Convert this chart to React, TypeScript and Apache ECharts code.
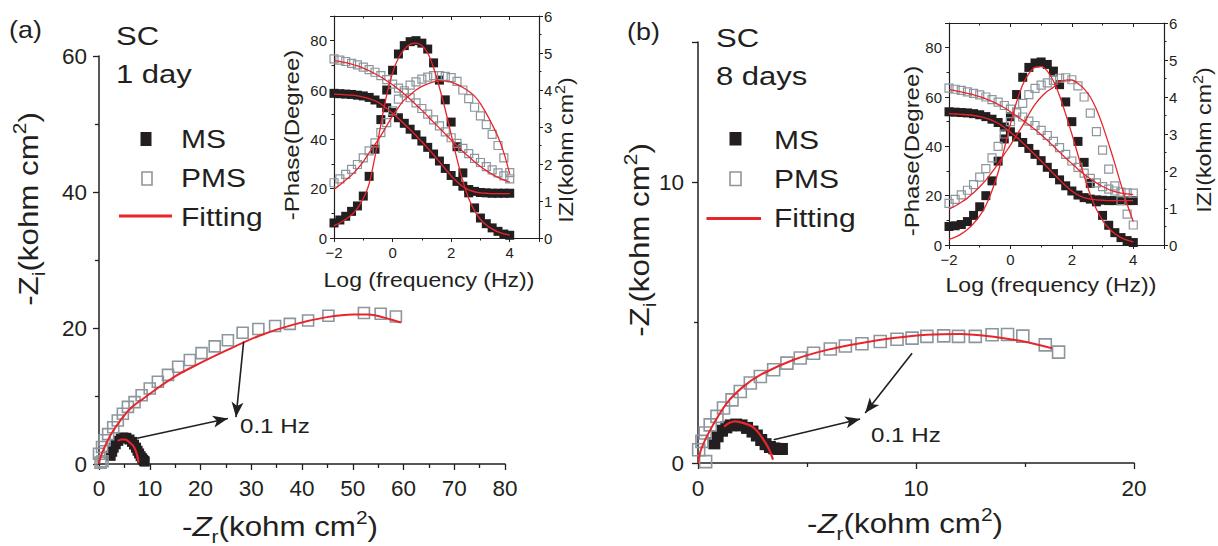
import React, { useEffect, useRef } from 'react';
import * as echarts from 'echarts';

const FONT = "'Liberation Sans', Arial, Helvetica, sans-serif";
const INK = '#231f20';
const RED = '#e8252b';
const GRAY = '#8c969d';

// ---- Bode insets: log frequency (Hz) ----
const logF = [-2, -1.8, -1.6, -1.4, -1.2, -1, -0.8, -0.6, -0.4, -0.2, 0, 0.2, 0.4, 0.6, 0.8, 1, 1.2, 1.4, 1.6, 1.8, 2, 2.2, 2.4, 2.6, 2.8, 3, 3.2, 3.4, 3.6, 3.8, 4];

// (a) 1 day
const aMsPhase = [6.1, 7.3, 8.8, 10.8, 13, 17, 25, 36, 48, 60, 68, 74.6, 78, 79.6, 80, 79, 76.6, 71, 64, 56, 47, 37, 26.4, 18.3, 12.2, 8.1, 5.8, 4.1, 2.7, 1.6, 1.1];
const aMsPhaseFit = [5, 6.2, 7.6, 9.4, 12, 16, 22, 33, 46, 58, 67, 73, 76.5, 78.5, 79, 78, 75, 69, 61, 52, 42, 32, 23, 16, 11, 7.5, 5.3, 3.7, 2.5, 1.7, 1.2];
const aMsZ = [3.91, 3.9, 3.89, 3.88, 3.86, 3.84, 3.8, 3.73, 3.64, 3.52, 3.39, 3.25, 3.1, 2.94, 2.79, 2.62, 2.45, 2.27, 2.08, 1.88, 1.69, 1.53, 1.4, 1.31, 1.26, 1.23, 1.22, 1.21, 1.21, 1.21, 1.21];
const aMsZFit = [3.89, 3.88, 3.87, 3.86, 3.84, 3.81, 3.77, 3.71, 3.62, 3.5, 3.37, 3.23, 3.08, 2.93, 2.77, 2.6, 2.43, 2.25, 2.06, 1.87, 1.68, 1.52, 1.39, 1.3, 1.25, 1.22, 1.21, 1.2, 1.2, 1.2, 1.2];
const aPmsPhase = [22.4, 24, 25.8, 27.8, 29.8, 32.5, 35.3, 38.6, 42.7, 46.8, 51.5, 56.3, 59.7, 62, 63.3, 64.4, 65.2, 65.8, 65.8, 65.5, 65, 63.5, 60, 56.5, 53, 49.5, 46, 42, 37.5, 32.5, 26.5];
const aPmsPhaseFit = [19.7, 21.5, 23.5, 25.5, 28, 31, 34.5, 38, 41.5, 45.5, 49.5, 53, 56, 58, 60, 61.5, 62.5, 63.3, 63.7, 63.6, 63.2, 62.3, 61, 59.5, 57.5, 54.5, 50.5, 46, 41, 34.5, 26];
const aPmsZ = [4.84, 4.81, 4.77, 4.72, 4.68, 4.62, 4.55, 4.48, 4.39, 4.28, 4.16, 4.05, 3.92, 3.79, 3.65, 3.5, 3.35, 3.19, 3.03, 2.87, 2.71, 2.56, 2.42, 2.28, 2.15, 2.04, 1.93, 1.84, 1.76, 1.68, 1.6];
const aPmsZFit = [4.8, 4.77, 4.74, 4.7, 4.65, 4.59, 4.52, 4.44, 4.35, 4.25, 4.14, 4.02, 3.89, 3.75, 3.6, 3.45, 3.29, 3.13, 2.97, 2.81, 2.65, 2.49, 2.34, 2.2, 2.06, 1.93, 1.82, 1.72, 1.64, 1.57, 1.51];

// (b) 8 days
const bMsPhase = [7.5, 7.8, 8.3, 9.5, 12, 15.5, 20, 26, 34, 43, 52, 61, 68, 72, 73.8, 74.2, 73.2, 70.5, 65, 58, 50, 42, 33.5, 25, 17.5, 12, 8, 5, 3, 1.8, 1];
const bMsPhaseFit = [2.3, 3.2, 4.5, 6.3, 8.7, 11.8, 16, 22, 29.5, 39, 49, 58, 65, 69.5, 72, 72.3, 70.5, 66.5, 60.5, 53, 45, 36.5, 28, 20.5, 14.5, 10, 6.8, 4.6, 3, 2, 1.3];
const bMsZ = [3.6, 3.59, 3.58, 3.57, 3.55, 3.52, 3.47, 3.4, 3.31, 3.19, 3.06, 2.92, 2.77, 2.61, 2.45, 2.28, 2.1, 1.93, 1.76, 1.6, 1.46, 1.35, 1.28, 1.24, 1.22, 1.21, 1.2, 1.2, 1.2, 1.2, 1.2];
const bMsZFit = [3.55, 3.54, 3.53, 3.52, 3.5, 3.47, 3.43, 3.37, 3.29, 3.18, 3.05, 2.91, 2.76, 2.6, 2.44, 2.27, 2.1, 1.93, 1.76, 1.6, 1.46, 1.35, 1.28, 1.24, 1.22, 1.21, 1.2, 1.2, 1.2, 1.2, 1.2];
const bPmsPhase = [16.9, 18.5, 20.3, 22.2, 24.5, 27.5, 31, 35.3, 40, 45, 50, 54, 57.4, 61, 63.5, 64.8, 65.7, 66.7, 67.6, 67.8, 67, 64.5, 60, 53.5, 46, 38.5, 30.8, 24, 18, 12.5, 8.1];
const bPmsPhaseFit = [14.5, 15.8, 17.3, 19, 21.2, 23.6, 26.3, 29.5, 33, 36.8, 40.5, 44.5, 48.5, 53, 57, 60, 62.3, 64, 66.3, 66.8, 66.9, 65.5, 63.3, 60, 55, 48.5, 41, 33, 24.5, 16.5, 9.5];
const bPmsZ = [4.24, 4.21, 4.18, 4.14, 4.1, 4.06, 4, 3.93, 3.86, 3.77, 3.67, 3.57, 3.46, 3.35, 3.23, 3.1, 2.96, 2.8, 2.63, 2.45, 2.27, 2.1, 1.94, 1.8, 1.68, 1.58, 1.51, 1.46, 1.43, 1.41, 1.4];
const bPmsZFit = [4.2, 4.17, 4.14, 4.1, 4.06, 4.01, 3.95, 3.88, 3.8, 3.71, 3.6, 3.49, 3.37, 3.25, 3.12, 2.98, 2.83, 2.67, 2.51, 2.35, 2.2, 2.05, 1.91, 1.79, 1.68, 1.58, 1.5, 1.44, 1.4, 1.38, 1.36];

// ---- Nyquist plots: [-Zr, -Zi] in kohm cm2 ----
const aMsNyq = [[2.3, 1.2], [2.6, 1.8], [2.9, 2.4], [3.3, 2.9], [3.8, 3.4], [4.3, 3.75], [4.8, 3.9], [5.4, 3.85], [6.0, 3.6], [6.5, 3.25], [6.9, 2.85], [7.3, 2.4], [7.6, 1.95], [7.9, 1.55], [8.2, 1.15], [8.5, 0.85], [8.7, 0.6], [8.9, 0.45], [9.0, 0.35]];
const aMsNyqFit = [[3.7, 3.4], [4.4, 3.6], [5.2, 3.6], [6.0, 3.2], [6.7, 2.7], [7.2, 2.0], [7.5, 1.3], [7.7, 0.7], [7.8, 0.2]];
const aPmsNyq = [[-0.2, 0.5], [0.3, 0.2], [0.7, 0.4], [0, 1.5], [0.6, 2.5], [1.1, 3.5], [1.8, 4.4], [2.8, 5.4], [3.7, 6.4], [4.7, 7.4], [5.7, 8.4], [7.0, 9.1], [8.4, 10.1], [10.0, 11.1], [11.6, 12.1], [13.6, 13.1], [15.6, 14.3], [17.9, 15.3], [20.2, 16.3], [22.8, 17.3], [25.4, 18.2], [28.3, 19.3], [31.4, 19.85], [34.7, 20.3], [37.6, 20.6], [41.2, 21.1], [45.2, 21.8], [52.2, 22.2], [55.5, 22.1], [58.5, 21.7]];
const aPmsNyqFit = [[0, 0], [0.3, 1.0], [1.1, 2.5], [2.4, 4.4], [4.4, 6.6], [6.4, 8.3], [8.7, 9.6], [12, 11.4], [15, 12.9], [18.5, 14.3], [25.1, 16.7], [31.7, 18.9], [38.3, 20.5], [44.9, 21.6], [50.1, 22.0], [53.1, 22.0], [57.3, 21.3], [59.5, 20.8]];
const aArrows = [[[28.5, 18.0], [27, 6.9]], [[7.5, 3.8], [25.4, 6.7]]];

const bMsNyq = [[0.75, 0.7], [0.9, 0.95], [1.1, 1.15], [1.3, 1.27], [1.5, 1.34], [1.75, 1.37], [2.0, 1.34], [2.25, 1.25], [2.5, 1.12], [2.7, 0.98], [2.9, 0.82], [3.1, 0.67], [3.3, 0.57], [3.5, 0.52], [3.7, 0.5], [3.85, 0.5]];
const bMsNyqFit = [[1.2, 1.3], [1.45, 1.43], [1.71, 1.48], [2.1, 1.42], [2.48, 1.3], [2.75, 1.1], [3.0, 0.83], [3.2, 0.58], [3.33, 0.36], [3.44, 0.12]];
const bPmsNyq = [[0.1, -0.1], [0.35, 0.05], [-0.05, 0.18], [0.03, 0.47], [0.18, 0.77], [0.33, 1.07], [0.56, 1.36], [0.87, 1.66], [1.17, 1.96], [1.56, 2.25], [1.94, 2.55], [2.4, 2.85], [2.86, 3.08], [3.47, 3.32], [4.08, 3.56], [4.69, 3.74], [5.3, 3.91], [6.07, 4.06], [6.76, 4.17], [7.52, 4.25], [8.36, 4.33], [9.13, 4.41], [9.82, 4.45], [10.5, 4.51], [11.27, 4.53], [11.95, 4.51], [12.72, 4.51], [13.49, 4.57], [14.2, 4.58], [14.9, 4.52], [15.93, 4.21], [16.54, 3.95]];
const bPmsNyqFit = [[0, 0], [0.15, 0.5], [0.56, 1.18], [1.33, 2.14], [2.09, 2.73], [2.86, 3.14], [4.39, 3.68], [5.92, 4.03], [7.44, 4.27], [8.97, 4.45], [10.5, 4.57], [12.03, 4.6], [13.56, 4.5], [15.0, 4.32], [16.24, 4.09]];
const bArrows = [[[9.82, 3.91], [7.67, 1.78]], [[3.47, 0.83], [7.44, 1.57]]];

const pairs = (ys: number[]) => logF.map((x, i) => [x, ys[i]]);

const lineStyle = { color: INK, width: 1.3 };
const hideAbove = (lim: number) => (v: number) => (v > lim + 1e-9 ? '' : v < 0 ? '\u2212' + -v : String(v));

function mainAxis(gridIndex: number, min: number, max: number, interval: number, pos: string, lim: number, margin = 13) {
  return {
    type: 'value', gridIndex, min, max, interval, position: pos,
    axisLine: { onZero: false, lineStyle: { color: INK, width: 1.5 } },
    axisTick: { length: 6, lineStyle },
    minorTick: { show: true, splitNumber: 2, length: 4, lineStyle },
    splitLine: { show: false }, minorSplitLine: { show: false },
    axisLabel: { fontSize: 22.5, color: INK, fontFamily: FONT, margin, formatter: hideAbove(lim) },
  };
}
function insetAxis(gridIndex: number, min: number, max: number, interval: number, pos: string, lim: number, showLabel = true, inside = false, margin = 6) {
  return {
    type: 'value', gridIndex, min, max, interval, position: pos,
    axisLine: { onZero: false, lineStyle: { color: INK, width: 1.2 } },
    axisTick: { length: 4, inside, lineStyle: { color: INK, width: 1 } },
    minorTick: { show: true, splitNumber: 2, length: 2.5, lineStyle: { color: INK, width: 1 } },
    splitLine: { show: false }, minorSplitLine: { show: false },
    axisLabel: { show: showLabel, fontSize: 15, color: INK, fontFamily: FONT, margin, formatter: hideAbove(lim) },
  };
}

const msScatter = (name: string, x: number, y: number, data: any, size: number) => ({
  name, type: 'scatter', xAxisIndex: x, yAxisIndex: y, data, symbol: 'rect', symbolSize: size,
  itemStyle: { color: INK, opacity: 1 }, silent: true, z: 2,
});
const pmsScatter = (name: string, x: number, y: number, data: any, size: number, bw = 1.4) => ({
  name, type: 'scatter', xAxisIndex: x, yAxisIndex: y, data, symbol: 'rect', symbolSize: size,
  itemStyle: { color: 'rgba(255,255,255,0)', borderColor: GRAY, borderWidth: bw, opacity: 1 }, silent: true, z: 3,
});
const fitLine = (name: string, x: number, y: number, data: any, width: number, extra: any = {}) => ({
  name, type: 'line', xAxisIndex: x, yAxisIndex: y, data, smooth: 0.3, showSymbol: false, symbol: 'none',
  lineStyle: { color: RED, width }, silent: true, z: 4, ...extra,
});
const arrowMark = (arrs: number[][][]) => ({
  markLine: {
    silent: true, symbol: ['none', 'arrow'], symbolSize: [9, 15],
    lineStyle: { color: INK, width: 1.6, type: 'solid' }, label: { show: false },
    data: arrs.map(([s, e]) => [{ coord: s }, { coord: e }]),
  },
});

const SX = 1.17; // horizontal stretch of the reference's lettering
const txt = (text: string, x: number, y: number, fontSize: number, extra: any = {}) => ({
  type: 'text', x, y, silent: true, rotation: extra.rotation || 0, scaleX: extra.sx || SX, scaleY: 1,
  style: { text, fontSize, fontFamily: FONT, fill: INK, align: extra.align || 'left', verticalAlign: 'middle', rich: extra.rich },
});
const titleRich = (fs: number, sub: number) => ({
  it: { fontSize: fs, fontStyle: 'italic', fontFamily: FONT, fill: INK },
  sub: { fontSize: sub, fontFamily: FONT, fill: INK, verticalAlign: 'bottom', lineHeight: fs * 1.35 },
  sup: { fontSize: sub, fontFamily: FONT, fill: INK, verticalAlign: 'top', lineHeight: fs * 1.35 },
});

const option: any = {
  animation: false,
  backgroundColor: '#ffffff',
  textStyle: { fontFamily: FONT, color: INK },
  grid: [
    { left: 99, top: 56, width: 406, height: 408 },
    { left: 334, top: 16, width: 205, height: 222 },
    { left: 698, top: 42, width: 436, height: 421 },
    { left: 949, top: 23, width: 215, height: 222 },
  ],
  xAxis: [
    mainAxis(0, 0, 80, 10, 'bottom', 80),
    insetAxis(1, -2, 5, 2, 'bottom', 4, true, false, 7),
    insetAxis(1, -2, 5, 2, 'top', 4, false, true),
    mainAxis(2, 0, 20, 10, 'bottom', 20, 14),
    insetAxis(3, -2, 5, 2, 'bottom', 4, true, false, 7),
    insetAxis(3, -2, 5, 2, 'top', 4, false, true),
  ],
  yAxis: [
    mainAxis(0, 0, 60, 20, 'left', 60, 12),
    insetAxis(1, 0, 90, 20, 'left', 80, true, false, 7),
    insetAxis(1, 0, 6, 1, 'right', 6, true, false, 5),
    mainAxis(2, 0, 15, 10, 'left', 10, 14),
    insetAxis(3, 0, 90, 20, 'left', 80, true, false, 7),
    insetAxis(3, 0, 6, 1, 'right', 6, true, false, 5),
  ],
  series: [
    // (a) Nyquist
    msScatter('MS', 0, 0, aMsNyq, 10),
    pmsScatter('PMS', 0, 0, aPmsNyq, 11, 1.6),
    fitLine('Fitting', 0, 0, aPmsNyqFit, 2, arrowMark(aArrows)),
    fitLine('Fitting', 0, 0, aMsNyqFit, 2.2),
    // (a) inset
    msScatter('MS phase', 1, 1, pairs(aMsPhase), 9),
    msScatter('MS |Z|', 1, 2, pairs(aMsZ), 9),
    pmsScatter('PMS phase', 1, 1, pairs(aPmsPhase), 8, 1.2),
    pmsScatter('PMS |Z|', 1, 2, pairs(aPmsZ), 8, 1.2),
    fitLine('Fit MS phase', 1, 1, pairs(aMsPhaseFit), 1.3),
    fitLine('Fit MS |Z|', 1, 2, pairs(aMsZFit), 1.3),
    fitLine('Fit PMS phase', 1, 1, pairs(aPmsPhaseFit), 1.3),
    fitLine('Fit PMS |Z|', 1, 2, pairs(aPmsZFit), 1.3),
    // (b) Nyquist
    msScatter('MS', 3, 3, bMsNyq, 12),
    pmsScatter('PMS', 3, 3, bPmsNyq, 12, 1.6),
    fitLine('Fitting', 3, 3, bPmsNyqFit, 2, arrowMark(bArrows)),
    fitLine('Fitting', 3, 3, bMsNyqFit, 2.2),
    // (b) inset
    msScatter('MS phase', 4, 4, pairs(bMsPhase), 9),
    msScatter('MS |Z|', 4, 5, pairs(bMsZ), 9),
    pmsScatter('PMS phase', 4, 4, pairs(bPmsPhase), 8, 1.2),
    pmsScatter('PMS |Z|', 4, 5, pairs(bPmsZ), 8, 1.2),
    fitLine('Fit MS phase', 4, 4, pairs(bMsPhaseFit), 1.3),
    fitLine('Fit MS |Z|', 4, 5, pairs(bMsZFit), 1.3),
    fitLine('Fit PMS phase', 4, 4, pairs(bPmsPhaseFit), 1.3),
    fitLine('Fit PMS |Z|', 4, 5, pairs(bPmsZFit), 1.3),
  ],
  graphic: {
    elements: [
      txt('(a)', 9, 30, 24, { sx: 1.12 }),
      txt('SC', 116, 36, 26.5),
      txt('1 day', 116, 74, 26.5),
      txt('(b)', 627, 32, 24, { sx: 1.12 }),
      txt('SC', 716, 37.5, 26.5),
      txt('8 days', 716, 76, 26.5),
      // legend (a)
      { type: 'rect', silent: true, shape: { x: 140.5, y: 132, width: 11, height: 14 }, style: { fill: INK } },
      { type: 'rect', silent: true, shape: { x: 142, y: 172, width: 10, height: 13 }, style: { fill: 'none', stroke: GRAY, lineWidth: 1.6 } },
      { type: 'line', silent: true, shape: { x1: 119, y1: 216, x2: 172, y2: 216 }, style: { stroke: RED, lineWidth: 3 } },
      txt('MS', 181, 139.5, 25, { sx: 1.2 }),
      txt('PMS', 181, 178.5, 25, { sx: 1.2 }),
      txt('Fitting', 181, 217.5, 25, { sx: 1.2 }),
      // legend (b)
      { type: 'rect', silent: true, shape: { x: 729.5, y: 132, width: 12, height: 13.5 }, style: { fill: INK } },
      { type: 'rect', silent: true, shape: { x: 730, y: 172, width: 11, height: 13.5 }, style: { fill: 'none', stroke: GRAY, lineWidth: 1.6 } },
      { type: 'line', silent: true, shape: { x1: 706.5, y1: 218.5, x2: 761, y2: 218.5 }, style: { stroke: RED, lineWidth: 3 } },
      txt('MS', 774, 140.5, 25, { sx: 1.2 }),
      txt('PMS', 774, 179.5, 25, { sx: 1.2 }),
      txt('Fitting', 774, 218.5, 25, { sx: 1.2 }),
      // 0.1 Hz annotations
      txt('0.1 Hz', 240, 426, 21, { sx: 1.15 }),
      txt('0.1 Hz', 871, 435, 21, { sx: 1.15 }),
      // main axis titles
      txt('-Z{sub|i}(kohm cm{sup|2})', 29, 209, 27, { align: 'center', rotation: Math.PI / 2, rich: titleRich(27, 18), sx: 1.16 }),
      txt('-{it|Z}{sub|r}(kohm cm{sup|2})', 280, 527, 27, { align: 'center', rich: titleRich(27, 18), sx: 1.16 }),
      txt('-Z{sub|i}(kohm cm{sup|2})', 640, 240, 27, { align: 'center', rotation: Math.PI / 2, rich: titleRich(27, 18), sx: 1.16 }),
      txt('-{it|Z}{sub|r}(kohm cm{sup|2})', 905, 524, 27, { align: 'center', rich: titleRich(27, 18), sx: 1.16 }),
      // inset titles
      txt('-Phase(Degree)', 292, 135, 20.5, { align: 'center', rotation: Math.PI / 2 }),
      txt('IZI(kohm cm{sup|2})', 566, 150, 20, { align: 'center', rotation: Math.PI / 2, rich: titleRich(20, 14), sx: 1.16 }),
      txt('Log (frequency (Hz))', 429, 280, 20, { align: 'center', sx: 1.15 }),
      txt('-Phase(Degree)', 912, 151, 20.5, { align: 'center', rotation: Math.PI / 2 }),
      txt('IZI(kohm cm{sup|2})', 1204, 140, 20, { align: 'center', rotation: Math.PI / 2, rich: titleRich(20, 14), sx: 1.16 }),
      txt('Log (frequency (Hz))', 1051, 285, 20, { align: 'center', sx: 1.15 }),
    ],
  },
};

export default function App() {
  const ref = useRef<HTMLDivElement>(null);
  useEffect(() => {
    const chart = echarts.init(ref.current as HTMLDivElement, null, { renderer: 'svg' });
    chart.setOption(option);
    return () => chart.dispose();
  }, []);
  return (
    <div
      ref={ref}
      style={{ position: 'fixed', left: 0, top: 0, width: 1218, height: 546, background: '#fff' }}
    />
  );
}
